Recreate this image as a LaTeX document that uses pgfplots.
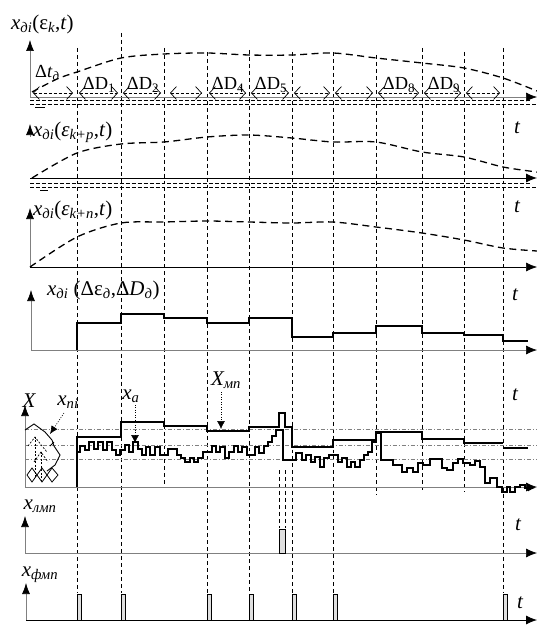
\documentclass[border=0pt]{standalone}
\usepackage{pgfplots}
\pgfplotsset{compat=1.18}
\usetikzlibrary{arrows.meta}
\usepackage{fontspec}
\setmainfont{Liberation Serif}
\newcommand{\sbs}[1]{\textsubscript{\itshape #1}}
\tikzset{
 vd/.style={black,line width=1pt,dash pattern=on 4pt off 3pt},
 cv/.style={black,line width=1.3pt,dash pattern=on 7pt off 4.5pt,smooth,tension=0.5},
 ga/.style={gray,line width=0.7pt},
 ha/.style={-{Latex[length=11bp,width=9bp,color=black]}},
 va/.style={-{Latex[length=11bp,width=8bp,color=black]}},
 dd/.style={black,line width=0.7pt,dash pattern=on 4pt off 2pt},
 chev/.style={black,line width=0.7pt,dash pattern=on 3pt off 2pt,{Straight Barb[length=6bp,width=13bp]}-{Straight Barb[length=6bp,width=13bp]}},
 dda/.style={gray,line width=0.6pt,dash pattern=on 4pt off 2pt on 1pt off 2pt},
 pul/.style={draw=black,fill=gray!25,line width=0.9pt},
 lab/.style={font=\fontsize{21}{22}\selectfont\itshape,inner sep=0pt},
 dl/.style={font=\fontsize{18.5}{19}\selectfont,inner sep=0pt},
}
\begin{document}
\begin{tikzpicture}
\begin{axis}[width=537bp,height=625bp,scale only axis,xmin=0,xmax=537,ymin=0,ymax=625,
 y dir=reverse,hide axis,clip=false]
\coordinate (BL) at (axis cs:0,625);
\coordinate (TR) at (axis cs:537,0);
% vertical dashed guide lines
\addplot[vd] coordinates {(77,48)(77,593)};
\addplot[vd] coordinates {(121,33)(121,593)};
\addplot[vd] coordinates {(164,48)(164,488)};
\addplot[vd] coordinates {(207,52)(207,593)};
\addplot[vd] coordinates {(249,50)(249,593)};
\addplot[vd] coordinates {(292,52)(292,593)};
\addplot[vd] coordinates {(333,52)(333,593)};
\addplot[vd] coordinates {(376,55)(376,495)};
\addplot[vd] coordinates {(422,48)(422,490)};
\addplot[vd] coordinates {(464,52)(464,492)};
\addplot[vd] coordinates {(503,48)(503,593)};
\addplot[vd,line width=0.9pt] coordinates {(279,470)(279,528)};
\addplot[vd,line width=0.9pt] coordinates {(285,470)(285,528)};
% ---------- panel 1
\addplot[ga,va] coordinates {(30,97)(30,40)};
\addplot[ga,ha] coordinates {(30,97)(537,97)};
\addplot[dd] coordinates {(30,100)(532,100)};
\addplot[dd] coordinates {(30,104)(537,104)};
\addplot[black,line width=1pt] coordinates {(35,107)(45,107)};
\addplot[cv] coordinates {(32,92)(57,79)(77,72)(121,58)(164,54)(207,53)(249,55)(292,55)(333,53)(376,58)(422,63)(464,68)(503,78)(537,91)};
\addplot[chev] coordinates {(33,93)(73,93)};
\addplot[chev] coordinates {(79,93)(118,93)};
\addplot[chev] coordinates {(123,93)(161,93)};
\addplot[chev] coordinates {(170,93)(202,93)};
\addplot[chev] coordinates {(209,93)(246,93)};
\addplot[chev] coordinates {(251,93)(289,93)};
\addplot[chev] coordinates {(294,93)(330,93)};
\addplot[chev] coordinates {(335,93)(373,93)};
\addplot[chev] coordinates {(378,93)(419,93)};
\addplot[chev] coordinates {(424,93)(461,93)};
\addplot[chev] coordinates {(466,93)(500,93)};
\node[lab,anchor=west] at (axis cs:11,24) {x\sbs{дi}\upshape(ε\sbs{k},\textit{t})};
\node[dl,anchor=west] at (axis cs:35,73) {Δ\textit{t}\sbs{д}};
\node[dl] at (axis cs:99,85) {ΔD\textsubscript{1}};
\node[dl] at (axis cs:143,85) {ΔD\textsubscript{2}};
\node[dl] at (axis cs:228,85) {ΔD\textsubscript{4}};
\node[dl] at (axis cs:271,85) {ΔD\textsubscript{5}};
\node[dl] at (axis cs:399,85) {ΔD\textsubscript{8}};
\node[dl] at (axis cs:444,85) {ΔD\textsubscript{9}};
\node[lab] at (axis cs:517,128) {t};
% ---------- panel 2
\addplot[ga,va] coordinates {(30,137)(30,124)};
\addplot[black,line width=0.8pt,ha] coordinates {(30,178)(537,178)};
\addplot[dd] coordinates {(30,183)(532,183)};
\addplot[dd] coordinates {(30,187)(537,187)};
\addplot[black,line width=1pt] coordinates {(40,190)(48,190)};
\addplot[cv] coordinates {(32,178)(77,153)(121,144)(164,142)(207,137)(249,135)(292,138)(333,142)(376,142)(422,152)(464,157)(503,167)(537,172)};
\node[lab,anchor=west] at (axis cs:33,132) {x\sbs{дi}\upshape(\textit{ε}\sbs{k+p},\textit{t})};
\node[lab] at (axis cs:517,207) {t};
% ---------- panel 3
\addplot[ga,va] coordinates {(30,267)(30,208)};
\addplot[black,line width=0.6pt,ha] coordinates {(30,267)(537,267)};
\addplot[cv] coordinates {(30,267)(77,237)(121,223)(164,222)(207,221)(249,222)(292,223)(333,222)(376,227)(422,233)(464,240)(503,248)(537,251)};
\node[lab,anchor=west] at (axis cs:33,210) {x\sbs{дi}\upshape(\textit{ε}\sbs{k+n},\textit{t})};
\node[lab] at (axis cs:515,295) {t};
% ---------- panel 4
\addplot[ga,va] coordinates {(31,350)(31,290)};
\addplot[ga,ha] coordinates {(31,350)(537,350)};
\addplot[black,line width=1.3pt] coordinates {(77,350)(77,323)(121,323)(121,314)(164,314)(164,318)(207,318)(207,323)(249,323)(249,318)(292,318)(292,337)(333,337)(333,333)(376,333)(376,326)(422,326)(422,333)(464,333)(464,335)(503,335)(503,341)(528,341)};
\node[lab,anchor=west] at (axis cs:47,290) {x\sbs{дi} \upshape(Δε\sbs{д},Δ\textit{D}\sbs{д})};
\node[lab] at (axis cs:515,395) {t};
% ---------- panel 5
\addplot[ga,va] coordinates {(25,487)(25,405)};
\addplot[ga,ha] coordinates {(25,487)(537,487)};
\addplot[dda] coordinates {(25,429)(537,429)};
\addplot[dda] coordinates {(25,445)(537,445)};
\addplot[dda] coordinates {(25,459)(537,459)};
% icon
\addplot[black,line width=0.9pt] coordinates {(25,430)(34,424)(45,432)(52,440)(54,446)(60,455)(55,465)(47,471)};
\addplot[black,line width=0.8pt] coordinates {(50,446)(54,442)};
\addplot[black,line width=0.7pt,dash pattern=on 2pt off 1.5pt] coordinates {(28,446)(35,437)(42,446)(47,452)};
\addplot[black,line width=0.7pt,dash pattern=on 2pt off 1.5pt] coordinates {(34,462)(41,452)(48,462)};
\addplot[black,line width=0.7pt,dash pattern=on 2pt off 1.5pt] coordinates {(35,437)(35,478)};
\addplot[black,line width=0.7pt,dash pattern=on 2pt off 1.5pt] coordinates {(41,452)(41,480)};
\addplot[black,line width=0.8pt] coordinates {(27,475)(32,468)(37,475)(42,468)(47,475)(52,468)(58,475)};
\addplot[black,line width=0.8pt] coordinates {(27,475)(32,482)(37,475)(42,482)(47,475)(52,482)(58,475)};
% pointers
\addplot[black,line width=0.6pt,dash pattern=on 1pt off 1.5pt,-{Latex[length=8bp,width=7bp,color=black]}] coordinates {(64,413)(50,434)};
\addplot[black,line width=0.6pt,dash pattern=on 1pt off 1.5pt,-{Latex[length=8bp,width=8bp,color=black]}] coordinates {(135,405)(135,443)};
\addplot[black,line width=0.6pt,dash pattern=on 1pt off 1.5pt,-{Latex[length=8bp,width=8bp,color=black]}] coordinates {(221,392)(221,429)};
% X_mp thick step
\addplot[black,line width=1.7pt] coordinates {(77,487)(77,437)(121,437)(121,422)(164,422)(164,426)(207,426)(207,431)(249,431)(249,427)(279,427)(279,413)(285,413)(285,427)(292,427)(292,447)(333,447)(333,440)(376,440)(376,432)(422,432)(422,439)(464,439)(464,443)(503,443)};
\addplot[black,line width=1.7pt] coordinates {(503,448)(528,448)};
% x_a staircase
\addplot[black,line width=1.2pt,-{Latex[length=7bp,width=7bp,color=black]}] coordinates {
(77,452)(80,452)(80,446)(85,446)(85,450)(89,450)(89,442)(94,442)(94,449)(98,449)(98,442)(103,442)(103,450)(107,450)(107,442)(112,442)(112,450)(116,450)(116,455)(120,455)(120,450)
(125,450)(125,445)(129,445)(129,452)(133,452)(133,442)(138,442)(138,449)(142,449)(142,455)(146,455)(146,447)(150,447)(150,455)(155,455)(155,447)(160,447)(160,455)(164,455)
(168,455)(168,449)(177,449)(177,455)(181,455)(181,458)(185,458)(185,462)(190,462)(190,458)(194,458)(194,462)(198,462)(198,458)(203,458)(203,452)(207,452)
(212,452)(212,446)(216,446)(216,452)(220,452)(220,447)(225,447)(225,458)(229,458)(229,452)(234,452)(234,446)(238,446)(238,452)(242,452)(242,447)(247,447)(247,455)(251,455)
(255,455)(255,447)(259,447)(259,453)(264,453)(264,446)(268,446)(268,442)(272,442)(272,436)(276,436)(276,430)(283,430)(283,460)
(292,460)(296,460)(296,453)(302,453)(302,460)(306,460)(306,455)(311,455)(311,462)(315,462)(315,457)(320,457)(320,467)(324,467)(324,458)(329,458)(329,455)(333,455)
(338,455)(338,462)(342,462)(342,458)(347,458)(347,467)(351,467)(351,462)(355,462)(355,467)(360,467)(360,460)(364,460)(364,455)(368,455)(368,452)(372,452)(372,442)(376,442)(376,433)(381,433)(381,460)
(393,460)(393,465)(402,465)(402,472)(407,472)(407,468)(413,468)(413,472)(418,472)(418,463)(423,463)(423,465)(430,465)(430,459)(442,459)(442,468)(447,468)(447,470)(453,470)(453,463)(458,463)(458,459)(463,459)(463,463)(470,463)(470,465)(475,465)(475,461)(480,461)(480,467)(485,467)(485,483)(490,483)(490,478)(497,478)(497,487)(502,487)(502,492)(507,492)(507,487)(510,487)(510,492)(515,492)(515,487)(520,487)(520,485)(525,485)(525,488)(535,488)};
\node[lab] at (axis cs:29,401) {X};
\node[lab] at (axis cs:68,402) {x\sbs{ni}};
\node[lab] at (axis cs:131,396) {x\sbs{a}};
\node[lab] at (axis cs:226,380) {X\sbs{мп}};
% ---------- panel 6
\addplot[ga,va] coordinates {(25,553)(25,516)};
\addplot[ga,ha] coordinates {(25,553)(537,553)};
\addplot[pul] coordinates {(279,553)(279,529)(285,529)(285,553)(279,553)};
\node[lab] at (axis cs:40,506) {x\sbs{лмп}};
\node[lab] at (axis cs:518,525) {t};
% ---------- panel 7
\addplot[ga,va] coordinates {(26,620)(26,583)};
\addplot[black,line width=0.8pt,ha] coordinates {(26,620)(537,620)};
\addplot[pul] coordinates {(77,620)(77,594)(81,594)(81,620)(77,620)};
\addplot[pul] coordinates {(121,620)(121,594)(125,594)(125,620)(121,620)};
\addplot[pul] coordinates {(207,620)(207,594)(211,594)(211,620)(207,620)};
\addplot[pul] coordinates {(249,620)(249,594)(253,594)(253,620)(249,620)};
\addplot[pul] coordinates {(292,620)(292,594)(296,594)(296,620)(292,620)};
\addplot[pul] coordinates {(333,620)(333,594)(337,594)(337,620)(333,620)};
\addplot[pul] coordinates {(503,620)(503,594)(507,594)(507,620)(503,620)};
\node[lab] at (axis cs:40,575) {x\sbs{фмп}};
\node[lab] at (axis cs:520,603) {t};
\end{axis}
\pgfresetboundingbox
\path (BL) rectangle (TR);
\end{tikzpicture}
\end{document}
